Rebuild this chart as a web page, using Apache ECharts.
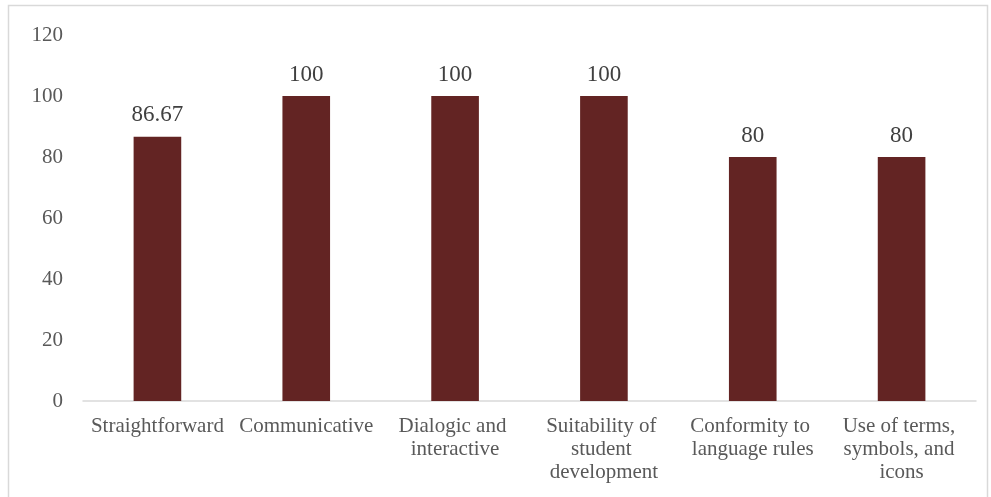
<!DOCTYPE html>
<html>
<head>
<meta charset="utf-8">
<script src="https://cdn.jsdelivr.net/npm/echarts@6/dist/echarts.min.js"></script>
<style>
  html, body { margin: 0; padding: 0; background: #ffffff; }
  #chart { width: 991px; height: 497px; }
</style>
</head>
<body>
<div id="chart"></div>
<script>
// Language aspect scores (percent) per criterion
const categories = [
  'Straightforward',
  'Communicative',
  'Dialogic and interactive',
  'Suitability of student development',
  'Conformity to language rules',
  'Use of terms, symbols, and icons'
];
const scores = [86.67, 100, 100, 100, 80, 80];
const yTicks = { min: 0, max: 120, interval: 20 };

const serif = 'Liberation Serif';
const chart = echarts.init(document.getElementById('chart'), null, { renderer: 'canvas' });

chart.setOption({
  backgroundColor: '#ffffff',
  animation: false,
  graphic: [{
    type: 'rect',
    shape: { x: 8.5, y: 5.5, width: 979, height: 500 },
    style: { fill: 'none', stroke: '#d9d9d9', lineWidth: 1.5 },
    silent: true,
    z: -1
  }],
  grid: { left: 83, right: 15, top: 35, bottom: 96, containLabel: false },
  xAxis: {
    type: 'category',
    data: categories,
    axisLine: { show: true, lineStyle: { color: '#d9d9d9', width: 1.5 } },
    axisTick: { show: false },
    axisLabel: {
      interval: 0,
      margin: 14,
      color: '#595959',
      fontFamily: serif,
      fontSize: 21,
      lineHeight: 23,
      width: 142,
      overflow: 'break'
    }
  },
  yAxis: {
    type: 'value',
    min: yTicks.min,
    max: yTicks.max,
    interval: yTicks.interval,
    axisLine: { show: false },
    axisTick: { show: false },
    splitLine: { show: false },
    axisLabel: {
      margin: 20,
      color: '#595959',
      fontFamily: serif,
      fontSize: 21
    }
  },
  series: [{
    type: 'bar',
    data: scores,
    barWidth: '32%',
    itemStyle: { color: '#632423' },
    label: {
      show: true,
      position: 'top',
      distance: 10,
      color: '#404040',
      fontFamily: serif,
      fontSize: 23
    }
  }]
});
</script>
</body>
</html>
